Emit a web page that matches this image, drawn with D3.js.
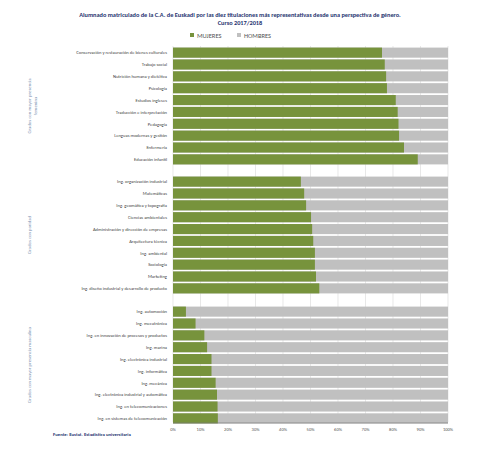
<!DOCTYPE html>
<html><head><meta charset="utf-8">
<script src="https://cdn.jsdelivr.net/npm/d3@7"></script>
<style>body{margin:0;background:#fff}text{font-family:Calibri,"Liberation Sans",Arial,sans-serif}</style>
</head><body><div id="chart"></div>
<script>
const groupNames = [["Grados con mayor presencia", "femenina"], ["Grados con paridad"], ["Grados con mayor presencia masculina"]];
const femNames = ["Conservación y restauración de bienes culturales","Trabajo social","Nutrición humana y dietética","Psicología","Estudios ingleses","Traducción e interpretación","Pedagogía","Lenguas modernas y gestión","Enfermería","Educación infantil"];
const femValues = [76, 77, 77.5, 77.8, 81, 81.7, 82, 82.2, 84, 89];
const parNames = ["Ing. organización industrial","Matemáticas","Ing. geomática y topografía","Ciencias ambientales","Administración y dirección de empresas","Arquitectura técnica","Ing. ambiental","Sociología","Marketing","Ing. diseño industrial y desarrollo de producto"];
const parValues = [46.5, 47.7, 48.4, 50.2, 50.6, 51, 51.6, 51.6, 52, 53.2];
const masNames = ["Ing. automoción","Ing. mecatrónica","Ing. en innovación de procesos y productos","Ing. marina","Ing. electrónica industrial","Ing. informática","Ing. mecánica","Ing. electrónica industrial y automática","Ing. en telecomunicaciones","Ing. en sistemas de telecomunicación"];
const masValues = [4.7, 8.2, 11.4, 12.4, 14, 14, 15.5, 16, 16.2, 16.3];
const ticks = [0,10,20,30,40,50,60,70,80,90,100];

const svg = d3.select('#chart').append('svg').attr('width', 483).attr('height', 450);
const green = '#77933c', grey = '#c0c0c0', navy = '#1f3470';
const x = d3.scaleLinear().domain([0, 100]).range([173, 448]);

svg.append('text').attr('x', 240).attr('y', 17).attr('text-anchor', 'middle').attr('font-size', 6.3)
  .attr('font-weight', 'bold').attr('fill', navy)
  .text('Alumnado matriculado de la C.A. de Euskadi por las diez titulaciones más representativas desde una perspectiva de género.');
svg.append('text').attr('x', 240).attr('y', 25).attr('text-anchor', 'middle').attr('font-size', 6.3)
  .attr('font-weight', 'bold').attr('fill', navy).text('Curso 2017/2018');

// legend
[['MUJERES', green, 190], ['HOMBRES', grey, 237]].forEach(([t, c, lx]) => {
  svg.append('rect').attr('x', lx).attr('y', 33).attr('width', 4).attr('height', 4).attr('fill', c);
  svg.append('text').attr('x', lx + 7).attr('y', 38).attr('font-size', 6.5).attr('fill', '#555').text(t);
});

// grid
svg.selectAll('.grid').data(ticks).join('line')
  .attr('x1', d => x(d)).attr('x2', d => x(d)).attr('y1', 46).attr('y2', 422)
  .attr('stroke', '#d9d9d9').attr('stroke-width', 0.6);

const sections = [
  {names: femNames, values: femValues, top: 47, bottom: 165},
  {names: parNames, values: parValues, top: 176, bottom: 294},
  {names: masNames, values: masValues, top: 306, bottom: 424}
];
sections.forEach((s, si) => {
  const y = d3.scaleBand().domain(s.names).range([s.top, s.bottom]).paddingInner(0.15).paddingOuter(0.05);
  const g = svg.append('g');
  g.selectAll('.h').data(s.names).join('rect')
    .attr('x', x(0)).attr('y', d => y(d)).attr('width', x(100) - x(0)).attr('height', y.bandwidth()).attr('fill', grey);
  g.selectAll('.m').data(s.values).join('rect')
    .attr('x', x(0)).attr('y', (d, i) => y(s.names[i])).attr('width', d => x(d) - x(0)).attr('height', y.bandwidth()).attr('fill', green);
  g.selectAll('.l').data(s.names).join('text')
    .attr('x', 167).attr('y', d => y(d) + y.bandwidth() / 2 + 1.8).attr('text-anchor', 'end')
    .attr('font-size', 4.6).attr('fill', '#444').text(d => d);
  const cy = (s.top + s.bottom) / 2;
  const gl = svg.append('text').attr('transform', `translate(31,${cy}) rotate(-90)`)
    .attr('text-anchor', 'middle').attr('font-size', 4.8).attr('fill', '#7a8fb0');
  groupNames[si].forEach((t, k) => gl.append('tspan').attr('x', 0).attr('dy', k ? 6 : 0).text(t));
});

svg.append('line').attr('x1', x(0)).attr('x2', x(100)).attr('y1', 423).attr('y2', 423).attr('stroke', '#777').attr('stroke-width', 0.7);
svg.selectAll('.t').data(ticks).join('text')
  .attr('x', d => x(d)).attr('y', 431).attr('text-anchor', 'middle').attr('font-size', 4.5).attr('fill', '#555')
  .text(d => d + '%');
svg.append('text').attr('x', 53).attr('y', 436).attr('font-size', 4.8).attr('font-weight', 'bold').attr('fill', navy)
  .text('Fuente: Eustat. Estadística universitaria');
</script></body></html>
